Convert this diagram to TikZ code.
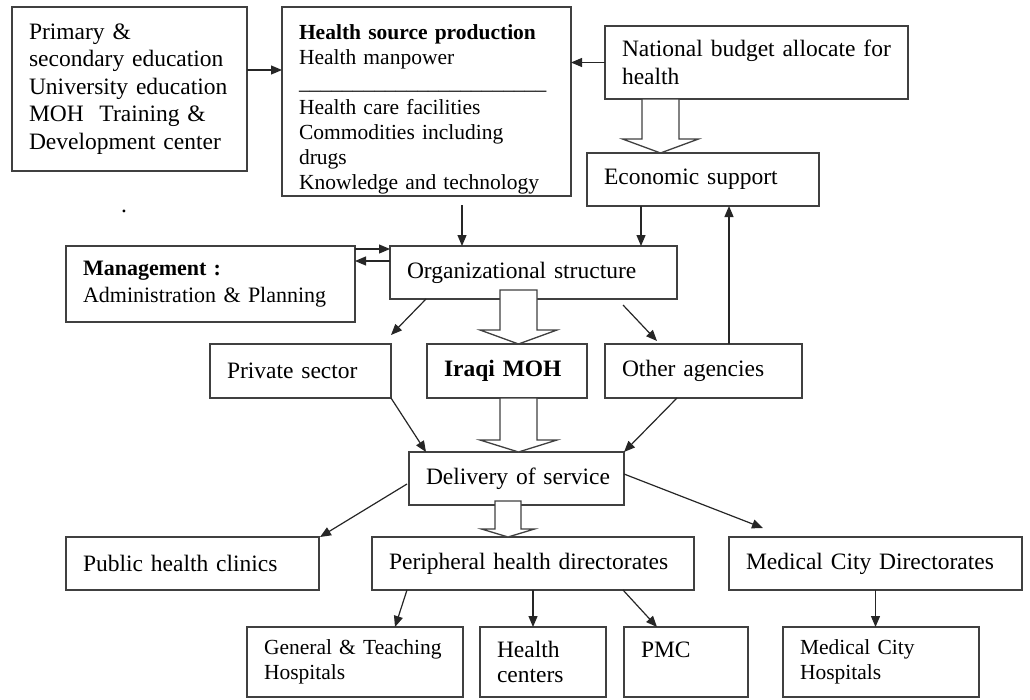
\documentclass[tikz,border=0pt]{standalone}
\usepackage{fontspec}
\setmainfont{Liberation Serif}
\usetikzlibrary{arrows.meta,calc}
\newcommand{\fatarrow}[5]{%
  \draw[fatarr] let \p1=#1, \p2=#2 in
    (\x1-#3,\y1) -- (\x1+#3,\y1) -- (\x1+#3,\y2+#5) -- (\x1+#4,\y2+#5)
    -- (\x1,\y2) -- (\x1-#4,\y2+#5) -- (\x1-#3,\y2+#5) -- cycle;}

\begin{document}
\begin{tikzpicture}[x=1pt, y=-1pt,
  box/.style={rectangle, draw=black!75, line width=1.3pt, anchor=north west,
              inner xsep=17pt, inner ysep=0pt, outer sep=0pt, align=left,
              font=\fontsize{23.5}{27.5}\selectfont},
  small/.style={font=\fontsize{21.5}{25}\selectfont},
  arr/.style={-{Triangle[length=11pt,width=9pt]}, line width=1.2pt, black!85},
  fatarr/.style={draw=black!75, line width=1.3pt, fill=white}
]
  \useasboundingbox (0,0) rectangle (1030,699);

  \node[box, minimum width=235pt, minimum height=164pt, text width=201pt] (edu) at (12,7)
    {Primary \&\\secondary education\\University education\\MOH\ \ Training \&\\Development center};
  \node[box, small, minimum width=289pt, minimum height=189pt, text width=255pt] (hsp) at (282,7)
    {\rule{0pt}{30pt}\textbf{Health source production}\\Health manpower\\
     \_\_\_\_\_\_\_\_\_\_\_\_\_\_\_\_\_\_\_\_\_\_\_\\
     Health care facilities\\Commodities including\\drugs\\Knowledge and technology};
  \node[box, minimum width=303pt, minimum height=73pt, text width=269pt] (budget) at (605,26)
    {National budget allocate for\\health};
  \node[box, minimum width=232pt, minimum height=53pt, text width=198pt] (econ) at (587,153)
    {Economic support};
  \node[box, minimum width=287pt, minimum height=53pt, text width=253pt] (org) at (390,246)
    {Organizational structure};
  \node[box, font=\fontsize{22}{27}\selectfont, minimum width=289pt, minimum height=76pt,
        text width=255pt] (mgmt) at (66,246)
    {\textbf{Management :}\\Administration \& Planning};
  \node[box, minimum width=181pt, minimum height=54pt, text width=147pt] (private) at (210,344)
    {Private sector};
  \node[box, minimum width=160pt, minimum height=54pt, text width=126pt] (moh) at (427,344)
    {\textbf{Iraqi MOH}};
  \node[box, minimum width=197pt, minimum height=54pt, text width=163pt] (other) at (605,344)
    {Other agencies};
  \node[box, minimum width=215pt, minimum height=53pt, text width=181pt] (delivery) at (409,452)
    {\mbox{Delivery of service}};
  \node[box, minimum width=253pt, minimum height=53pt, text width=219pt] (public) at (66,537)
    {Public health clinics};
  \node[box, minimum width=322pt, minimum height=53pt, text width=288pt] (periph) at (372,537)
    {Peripheral health directorates};
  \node[box, minimum width=293pt, minimum height=53pt, text width=259pt] (medcity) at (729,537)
    {Medical City Directorates};
  \node[box, small, minimum width=216pt, minimum height=70pt, text width=182pt] (general) at (247,627)
    {General \& Teaching\\Hospitals};
  \node[box, font=\fontsize{23.5}{25}\selectfont, minimum width=126pt, minimum height=70pt,
        text width=92pt] (hc) at (480,627)
    {Health\\centers};
  \node[box, minimum width=124pt, minimum height=70pt, text width=90pt] (pmc) at (624,627)
    {PMC\rule[-24pt]{0pt}{24pt}};
  \node[box, small, minimum width=196pt, minimum height=70pt, text width=162pt] (mch) at (783,627)
    {Medical City\\Hospitals};
  \node[font=\fontsize{23.5}{27.5}\selectfont, inner sep=0pt] (dot) at (124,211) {.};

  % hollow arrows
  \fatarrow{([xshift=-96]budget.south)}{(econ.north)}{18.5}{38}{14}
  \fatarrow{([xshift=-15,yshift=9]org.south)}{(moh.north)}{18.5}{38.5}{14}
  \fatarrow{([xshift=11.5]moh.south)}{(delivery.north)}{18.5}{38.5}{12}
  \fatarrow{([xshift=-8.5,yshift=4]delivery.south)}{(periph.north)}{13}{26.5}{8}

  % connectors
  \coordinate (e1) at ([yshift=19]edu.east);
  \draw[arr] (e1) -- (e1 -| hsp.west);
  \draw[arr] (budget.west) -- (budget.west -| hsp.east);
  \coordinate (h1) at ([xshift=35.5,yshift=-9]hsp.south);
  \draw[arr] (h1) -- (h1 |- org.north);
  \coordinate (c1) at ([xshift=-62]econ.south);
  \draw[arr] (c1) -- (c1 |- org.north);
  \coordinate (o1) at ([xshift=25.5]other.north);
  \draw[arr] (o1) -- (o1 |- econ.south);
  \coordinate (m1) at ([yshift=-3]org.north west);
  \coordinate (m2) at ([yshift=-15]org.north west);
  \draw[arr] (m1 -| mgmt.east) -- (m1);
  \draw[arr] (m2) -- (m2 -| mgmt.east);
  \draw[arr] ([xshift=36]org.south west) -- ([yshift=9]private.north east);
  \draw[arr] ([xshift=89.5,yshift=-6]org.south) -- ([xshift=52,yshift=3]other.north west);
  \draw[arr] (private.south east) -- ([xshift=17]delivery.north west);
  \draw[arr] ([xshift=-26.5]other.south) -- (delivery.north east);
  \draw[arr] ([xshift=-2,yshift=-5.5]delivery.west) -- ([xshift=1]public.north east);
  \draw[arr] ([yshift=4.5]delivery.east) -- ([xshift=34,yshift=9]medcity.north west);
  \draw[arr] ([xshift=35]periph.south west) -- ([xshift=40]general.north);
  \draw[arr] (periph.south) -- (periph.south |- hc.north);
  \draw[arr] ([xshift=90]periph.south) -- ([xshift=-29]pmc.north);
  \draw[arr] (medcity.south) -- (medcity.south |- mch.north);
\end{tikzpicture}
\end{document}
